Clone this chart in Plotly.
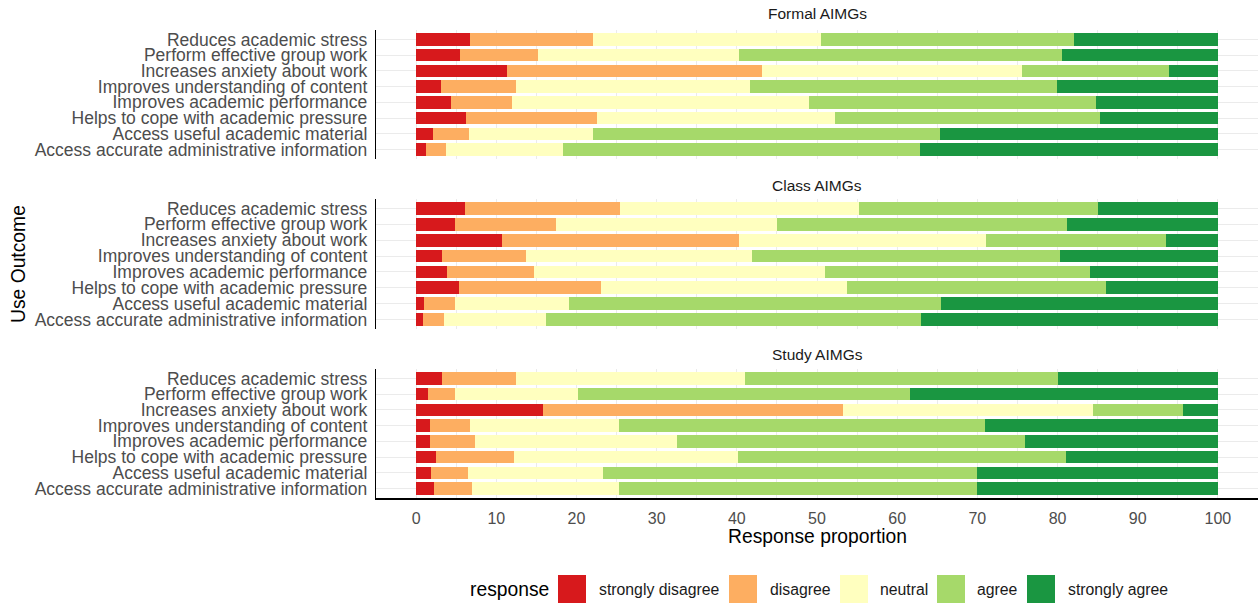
import plotly.graph_objects as go

# ---------------- data ----------------
categories = [
    "Reduces academic stress",
    "Perform effective group work",
    "Increases anxiety about work",
    "Improves understanding of content",
    "Improves academic performance",
    "Helps to cope with academic pressure",
    "Access useful academic material",
    "Access accurate administrative information",
]
facets = ["Formal AIMGs", "Class AIMGs", "Study AIMGs"]
responses = ["strongly disagree", "disagree", "neutral", "agree", "strongly agree"]
colors = ["#d7191c", "#fdae61", "#ffffbf", "#a6d96a", "#1a9641"]

formal_sd = [6.7, 5.5, 11.35, 3.1, 4.4, 6.2, 2.1, 1.25]
formal_d = [15.4, 9.7, 31.8, 9.4, 7.6, 16.3, 4.5, 2.5]
formal_n = [28.4, 25.1, 32.4, 29.1, 37.0, 29.7, 15.5, 14.6]
formal_a = [31.6, 40.3, 18.4, 38.3, 35.8, 33.1, 43.3, 44.5]
formal_sa = [17.9, 19.4, 6.05, 20.1, 15.2, 14.7, 34.6, 37.15]

class_sd = [6.1, 4.9, 10.7, 3.2, 3.9, 5.4, 1.0, 0.9]
class_d = [19.35, 12.6, 29.6, 10.5, 10.85, 17.7, 3.9, 2.6]
class_n = [29.8, 27.45, 30.8, 28.2, 36.3, 30.7, 14.2, 12.7]
class_a = [29.8, 36.2, 22.45, 38.4, 33.05, 32.2, 46.4, 46.8]
class_sa = [14.95, 18.85, 6.45, 19.7, 15.9, 14.0, 34.5, 37.0]

study_sd = [3.2, 1.5, 15.85, 1.75, 1.75, 2.5, 1.9, 2.25]
study_d = [9.3, 3.4, 37.4, 5.0, 5.6, 9.7, 4.6, 4.75]
study_n = [28.55, 15.3, 31.2, 18.6, 25.2, 27.95, 16.85, 18.35]
study_a = [38.95, 41.4, 11.25, 45.55, 43.4, 40.95, 46.55, 44.65]
study_sa = [20.0, 38.4, 4.3, 29.1, 24.05, 18.9, 30.1, 30.0]

x_ticks = [0, 10, 20, 30, 40, 50, 60, 70, 80, 90, 100]

facet_data = [
    [formal_sd, formal_d, formal_n, formal_a, formal_sa],
    [class_sd, class_d, class_n, class_a, class_sa],
    [study_sd, study_d, study_n, study_a, study_sa],
]

# ---------------- layout helpers ----------------
W, H = 1260, 605
L, R, T, B = 376, 1258, 30, 498  # plot area in pixels
FONT = "Liberation Sans, Arial, sans-serif"


def px2x(px):
    return (px - L) / (R - L)


def py2y(py):
    return (B - py) / (B - T)


panel_px = [(30, 159), (199, 329), (369, 498)]

fig = go.Figure()

for i, (fname, series) in enumerate(zip(facets, facet_data)):
    sfx = "" if i == 0 else str(i + 1)
    for resp, col, vals in zip(responses, colors, series):
        fig.add_trace(go.Bar(
            x=vals, y=categories, orientation="h",
            name=resp, marker=dict(color=col, line=dict(width=0)),
            width=0.8, showlegend=False,
            xaxis="x" + sfx, yaxis="y" + sfx,
            hovertemplate="%{y}<br>" + resp + ": %{x}<extra>" + fname + "</extra>",
        ))

layout = dict(
    width=W, height=H,
    margin=dict(l=L, r=W - R, t=T, b=H - B, pad=0),
    barmode="stack",
    plot_bgcolor="white", paper_bgcolor="white",
    font=dict(family=FONT, color="#4d4d4d"),
    showlegend=False,
)

for i in range(3):
    sfx = "" if i == 0 else str(i + 1)
    top, bot = panel_px[i]
    last = (i == 2)
    layout["xaxis" + sfx] = dict(
        domain=[0, 1], anchor="y" + sfx, range=[-5, 105],
        tickmode="array", tickvals=x_ticks,
        showgrid=True, gridcolor="#ebebeb", gridwidth=1,
        minor=dict(dtick=5, tick0=0, showgrid=True, gridcolor="#ebebeb", gridwidth=0.7),
        zeroline=False,
        showticklabels=last,
        ticks="outside" if last else "", ticklen=3, tickcolor="rgba(0,0,0,0)",
        ticklabelstandoff=2,
        tickfont=dict(size=16, color="#4d4d4d", family=FONT),
        showline=last, linecolor="black", linewidth=1.6,
        fixedrange=True,
    )
    if i > 0:
        layout["xaxis" + sfx]["matches"] = "x"
    layout["yaxis" + sfx] = dict(
        domain=[py2y(bot), py2y(top)], anchor="x" + sfx,
        type="category", categoryorder="array",
        categoryarray=list(reversed(categories)),
        tickmode="array", tickvals=categories, ticktext=categories,
        range=[-0.6, 7.6],
        showgrid=True, gridcolor="#ebebeb", gridwidth=1,
        zeroline=False,
        ticks="outside", ticklen=4, tickcolor="rgba(0,0,0,0)",
        ticklabelstandoff=0,
        tickfont=dict(size=17.5, color="#4d4d4d", family=FONT),
        showline=True, linecolor="black", linewidth=1.4,
        fixedrange=True,
    )

fig.update_layout(**layout)

annotations = []
# facet strip titles
for fname, py in zip(facets, [14, 185, 354]):
    annotations.append(dict(
        text=fname, x=px2x(817), y=py2y(py), xref="paper", yref="paper",
        xanchor="center", yanchor="middle", showarrow=False,
        font=dict(size=15.5, color="#1a1a1a", family=FONT),
    ))
# axis titles
annotations.append(dict(
    text="Response proportion", x=px2x(817), y=py2y(536), xref="paper", yref="paper",
    xanchor="center", yanchor="middle", showarrow=False,
    font=dict(size=19.3, color="black", family=FONT),
))
annotations.append(dict(
    text="Use Outcome", x=px2x(18), y=py2y(264), xref="paper", yref="paper",
    xanchor="center", yanchor="middle", showarrow=False, textangle=-90,
    font=dict(size=19.3, color="black", family=FONT),
))

# legend (drawn as keys + labels)
shapes = []
leg_y0, leg_y1, leg_cy = 575, 603, 589
annotations.append(dict(
    text="response", x=px2x(468), y=py2y(leg_cy), xref="paper", yref="paper",
    xanchor="left", yanchor="middle", showarrow=False,
    font=dict(size=19.3, color="black", family=FONT),
))
key_x = [558, 729, 840, 937, 1027]
lab_x = [597, 768, 878, 975, 1066]
for resp, col, kx, lx in zip(responses, colors, key_x, lab_x):
    shapes.append(dict(
        type="rect", xref="paper", yref="paper",
        x0=px2x(kx), x1=px2x(kx + 28), y0=py2y(leg_y1), y1=py2y(leg_y0),
        fillcolor=col, line=dict(width=0), layer="above",
    ))
    annotations.append(dict(
        text=resp, x=px2x(lx), y=py2y(leg_cy), xref="paper", yref="paper",
        xanchor="left", yanchor="middle", showarrow=False,
        font=dict(size=15.8, color="#1a1a1a", family=FONT),
    ))

fig.update_layout(annotations=annotations, shapes=shapes)

fig.write_html(
    "out.html",
    config={"displayModeBar": False},
    post_script="document.body.style.margin='0px';document.body.style.overflow='hidden';",
)
